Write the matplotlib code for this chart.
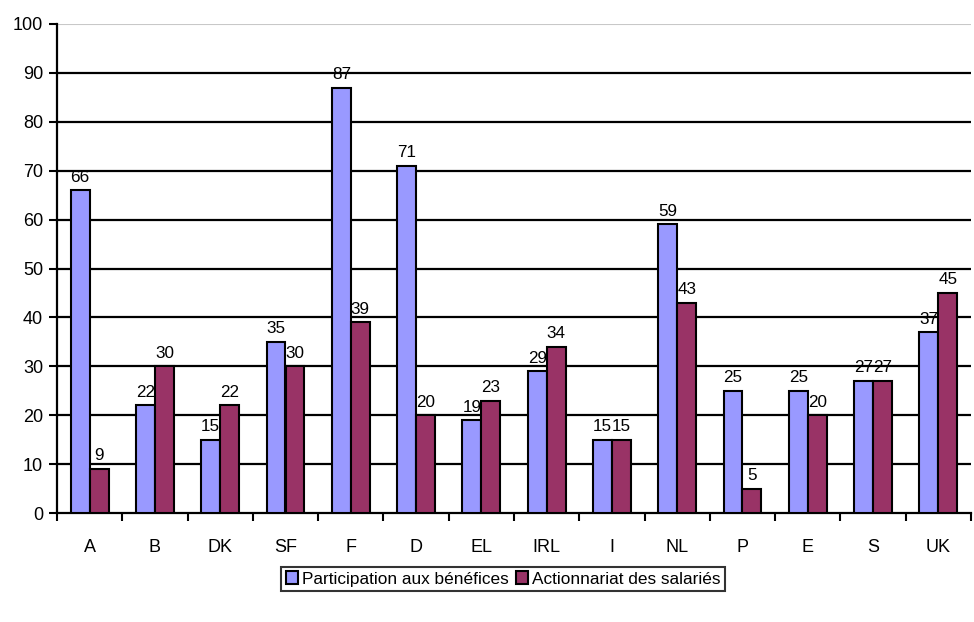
import matplotlib
matplotlib.use("Agg")
import matplotlib.pyplot as plt
import numpy as np

categories = ["A", "B", "DK", "SF", "F", "D", "EL", "IRL", "I", "NL", "P", "E", "S", "UK"]
participation = [66, 22, 15, 35, 87, 71, 19, 29, 15, 59, 25, 25, 27, 37]
actionnariat = [9, 30, 22, 30, 39, 20, 23, 34, 15, 43, 5, 20, 27, 45]
series_names = ["Participation aux bénéfices", "Actionnariat des salariés"]
yticks = list(range(0, 101, 10))

plt.rcParams['font.family'] = ['Liberation Sans', 'DejaVu Sans']
FS = 13
FL = 12.3

fig = plt.figure(figsize=(9.74, 6.22), dpi=100)
ax = fig.add_axes([57/974, (622-513)/622, (971-57)/974, (513-24)/622])

x = np.arange(len(categories))
w = 0.29
b1 = ax.bar(x - w/2, participation, w, color="#9999FF", edgecolor="black", linewidth=1.5, label=series_names[0], zorder=3)
b2 = ax.bar(x + w/2, actionnariat, w, color="#993366", edgecolor="black", linewidth=1.5, label=series_names[1], zorder=3)
ax.bar_label(b1, fontsize=FL, padding=4)
ax.bar_label(b2, fontsize=FL, padding=4)

ax.set_xlim(-0.5, len(categories) - 0.5)
ax.set_ylim(0, 100)
ax.set_yticks(yticks)
for v in yticks[1:-1]:
    ax.axhline(v, color="black", linewidth=1.6, zorder=1)
ax.axhline(100, color="#c8c8c8", linewidth=1.5, zorder=1)

ax.set_xticks(x)
ax.set_xticklabels(categories, fontsize=FS)
ax.set_xticks(np.arange(-0.5, len(categories) - 0.4, 1.0), minor=True)
ax.tick_params(axis="x", which="major", length=0, pad=19)
ax.tick_params(axis="x", which="minor", length=6, width=1.5, direction="out")
ax.tick_params(axis="y", length=6, width=1.5, direction="out", labelsize=FS, pad=4)

for s in ["top", "right"]:
    ax.spines[s].set_visible(False)
ax.spines["left"].set_linewidth(1.6)
ax.spines["bottom"].set_linewidth(1.6)

leg = fig.legend(loc="center", bbox_to_anchor=(503/974, (622-579)/622), ncol=2, fontsize=12.4,
                 frameon=True, fancybox=False, edgecolor="black", handlelength=0.7, handleheight=0.75,
                 handletextpad=0.25, columnspacing=0.4, borderpad=0.25, borderaxespad=0)
leg.get_frame().set_linewidth(1.5)
for h in leg.legend_handles:
    h.set_linewidth(1.5)

fig.savefig("out.png", dpi=100)
